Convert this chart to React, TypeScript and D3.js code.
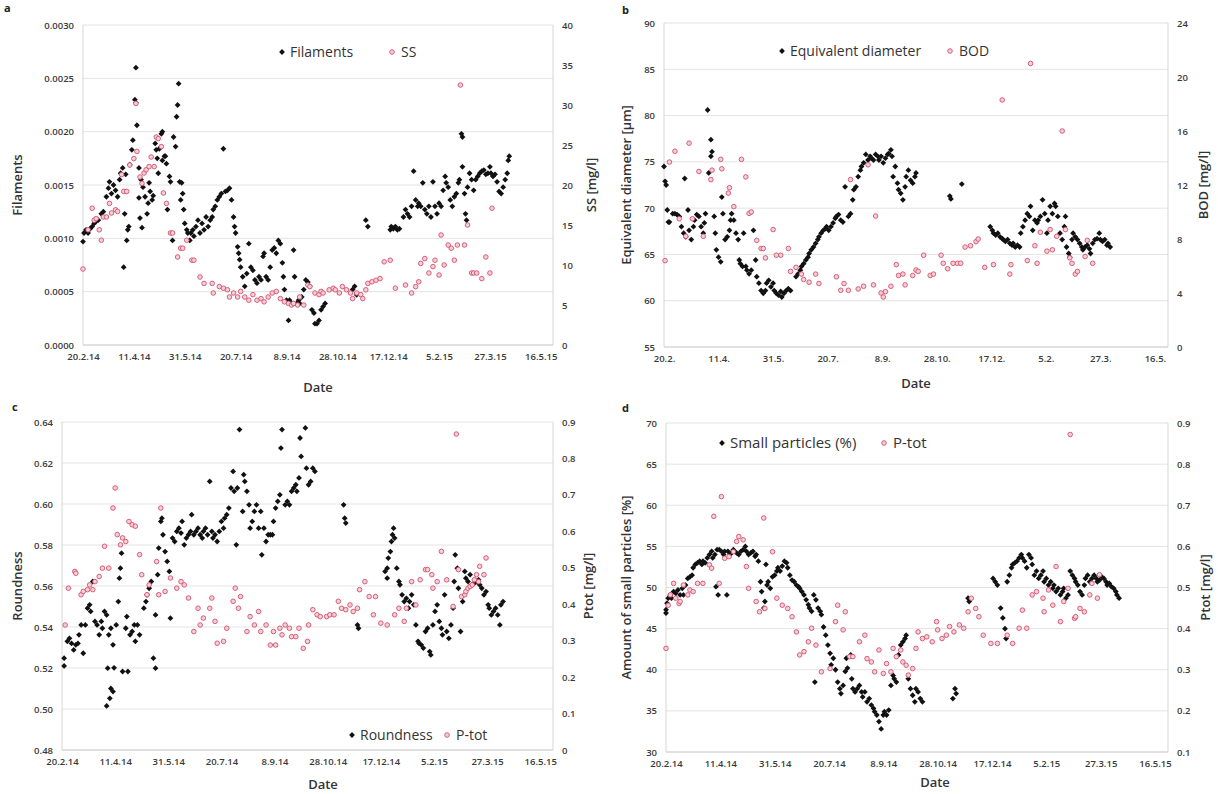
import React, { useEffect, useRef } from 'react';
import * as d3 from 'd3';

type Pt = [number, number];

// day offsets from 20.2.2014
const START = new Date(2014, 1, 20);
const tickDays = [0, 50, 100, 150, 200, 250, 300, 350, 400, 450];
const DAY_MAX = 462;

// a: filaments / SS
const filaments: Pt[] = [
  [0,0.00097],[1,0.00105],[3,0.00108],[5,0.00105],[7,0.00109],[9,0.00111],[11,0.00114],[13,0.00116],[15,0.00117],[18,0.00123],[20,0.00125],[23,0.00139],[25,0.00147],[26,0.00153],[28,0.00142],[30,0.0015],[32,0.00145],[34,0.00139],[36,0.00155],[37,0.00161],[39,0.00166],[40,0.00073],[41,0.00123],[42,0.0016],[43,0.00098],[44,0.00108],[45,0.00111],[46,0.00169],[48,0.00183],[49,0.00192],[51,0.0023],[52,0.0026],[52,0.00227],[53,0.00206],[55,0.00138],[55,0.00166],[56,0.00119],[57,0.00155],[58,0.0011],[59,0.00148],[61,0.00139],[63,0.00123],[64,0.00133],[65,0.00152],[66,0.00144],[68,0.00136],[69,0.0014],[71,0.00189],[72,0.00183],[73,0.00175],[74,0.00161],[75,0.00184],[77,0.00198],[78,0.002],[78,0.00173],[80,0.00177],[81,0.00177],[82,0.0017],[83,0.00127],[85,0.00158],[86,0.00153],[88,0.00098],[89,0.00195],[91,0.00186],[92,0.00214],[93,0.00225],[94,0.00245],[95,0.00153],[96,0.00136],[97,0.00152],[98,0.00142],[99,0.00127],[100,0.00114],[102,0.00108],[103,0.00105],[105,0.00098],[106,0.00105],[108,0.00108],[109,0.00102],[111,0.00111],[113,0.00117],[115,0.00105],[117,0.00114],[119,0.00108],[121,0.0012],[123,0.00111],[125,0.00117],[127,0.0012],[128,0.00127],[130,0.0013],[132,0.00136],[134,0.00139],[136,0.00142],[138,0.00184],[140,0.00144],[142,0.00145],[144,0.00147],[146,0.00136],[148,0.0012],[149,0.00111],[150,0.00105],[152,0.00092],[153,0.00086],[154,0.0008],[155,0.00073],[157,0.00064],[159,0.00055],[161,0.00067],[163,0.00095],[165,0.00073],[167,0.0007],[169,0.00061],[171,0.00058],[173,0.00064],[175,0.00061],[177,0.00083],[178,0.00086],[180,0.00064],[182,0.00061],[184,0.00073],[186,0.00089],[188,0.00091],[190,0.00086],[192,0.00098],[194,0.00095],[196,0.00077],[197,0.00064],[198,0.00052],[200,0.00042],[202,0.00023],[203,0.00042],[205,0.00039],[207,0.00089],[208,0.00064],[210,0.00039],[212,0.00042],[213,0.00039],[215,0.00045],[217,0.00052],[219,0.00061],[221,0.00059],[223,0.00055],[225,0.00033],[227,0.0003],[228,0.0002],[230,0.0002],[232,0.00023],[234,0.00033],[236,0.00036],[238,0.00039],
  [265,0.00052],[267,0.00055],[269,0.00047],[278,0.00117],[280,0.00111],
  [302,0.00108],[303,0.00111],[305,0.00109],[307,0.00111],[309,0.00108],[311,0.00109],[315,0.0012],[317,0.00127],[319,0.00123],[321,0.0012],[323,0.0013],[325,0.00163],[327,0.00136],[329,0.0013],[330,0.00133],[332,0.0013],[334,0.00152],[336,0.00127],[338,0.00123],[340,0.0013],[342,0.0012],[344,0.00153],[346,0.0013],[348,0.00123],[350,0.00133],[352,0.0013],[354,0.00145],[356,0.00158],[357,0.00152],[359,0.00148],[361,0.00136],[363,0.0013],[365,0.00139],[367,0.00142],[369,0.00152],[370,0.00155],[372,0.00198],[373,0.00195],[373,0.00167],[375,0.00142],[376,0.00123],[377,0.00117],[378,0.00148],[380,0.00161],[382,0.00155],[384,0.00145],[386,0.00155],[388,0.00158],[390,0.00161],[392,0.00163],[394,0.00164],[396,0.0016],[398,0.00161],[400,0.00167],[401,0.00161],[403,0.00158],[405,0.0016],[407,0.00153],[409,0.00144],[411,0.00142],[413,0.00148],[415,0.00155],[417,0.00161],[418,0.00173],[419,0.00177],
];
const ss: Pt[] = [
  [0,9.5],[5,14.4],[9,17.1],[11,15.6],[13,15.8],[16,14.4],[18,13.1],[20,16],[23,16],[26,17.7],[28,16.5],[32,16.9],[34,16.7],[38,21.3],[40,19.2],[43,19.2],[46,22.5],[50,23.3],[52,30.2],[53,24.2],[56,21],[58,20.2],[60,21.5],[62,21.9],[65,22.3],[67,23.5],[70,22.3],[72,26],[74,25.8],[77,24.8],[79,19],[82,17.7],[86,14],[88,14],[93,11],[96,12.1],[98,12.1],[102,13.1],[107,10.6],[109,10.6],[115,8.5],[119,7.7],[127,7.7],[128,6.5],[134,7.3],[138,7.1],[142,6.9],[144,6],[148,6.5],[152,6],[155,6.7],[159,6],[163,5.6],[167,6.3],[171,5.6],[175,5.8],[178,5.4],[182,6],[186,6.5],[190,6.7],[194,5.8],[198,5.4],[202,5.2],[205,5],[207,5.2],[211,5],[213,6],[217,5],[221,7.5],[223,7.3],[228,6.5],[232,6.3],[234,6.7],[236,6.5],[242,6.9],[246,7.1],[248,6.9],[252,6.5],[255,7.3],[259,6.9],[263,6.5],[265,5.8],[269,6.5],[273,6.3],[275,5.8],[278,6.9],[280,7.7],[284,7.9],[288,8.1],[292,8.3],[296,10.4],[302,10.6],[307,7.1],[317,7.5],[323,6.5],[327,7.3],[330,7.9],[332,10.2],[336,10.8],[340,9],[344,9.8],[346,10.6],[350,8.75],[352,13.75],[355,10],[359,12.5],[362,12.1],[365,10.6],[368,12.5],[371,32.5],[375,12.5],[378,15],[382,9],[384,9],[387,9],[392,8.3],[396,11],[400,9],[402,17.1],
];

// b: equivalent diameter / BOD
const eqDiameter: Pt[] = [
  [0,74.5],[1,72.9],[2,72.5],[3,69.8],[4,68.5],[5,68.5],[8,69.4],[10,69.4],[12,69.3],[14,69.1],[16,68],[18,67.3],[19,73.2],[20,66.9],[22,69.8],[23,67.6],[25,66.6],[27,68],[28,68.7],[30,69.3],[32,69.1],[34,68],[36,67.3],[37,68.4],[38,69.4],[40,80.6],[41,73.8],[43,77.4],[43,75.6],[44,76.1],[46,69.1],[47,67.3],[48,65.5],[50,64.7],[52,64.2],[53,71.2],[54,69.4],[56,66.6],[58,66.9],[60,67.6],[61,68.7],[62,69.4],[64,68.7],[66,67.3],[68,66.6],[69,64.4],[70,64],[72,63.7],[73,67.3],[75,63.7],[76,63.3],[78,62.9],[80,63.3],[82,67.6],[84,64.4],[85,62.6],[87,61.9],[89,61.1],[91,60.8],[93,61.1],[94,61.9],[96,62.2],[98,61.5],[100,61.9],[101,61.1],[103,60.8],[105,60.6],[107,61],[108,60.4],[110,60.8],[112,61.1],[114,61.3],[116,61.1],
  [121,62.6],[123,62.9],[125,63.3],[126,63.7],[128,64],[130,64.4],[132,64.7],[133,65.1],[135,65.5],[137,65.8],[139,66.2],[141,66.6],[142,66.9],[144,67.3],[146,67.6],[148,67.8],[149,68],[151,67.6],[153,68],[155,68.4],[157,68.9],[158,69.1],[160,69.3],[162,68.7],[164,68.5],[166,72.3],[169,69.1],[171,69.4],[173,70.9],[174,72],[176,72.3],[178,73.4],[180,74.1],[181,74.5],[183,74.9],[185,75.8],[187,75.2],[189,75.6],[190,75.4],[192,75.2],[194,75.8],[196,75.6],[197,75.2],[199,75.6],[201,74.9],[203,75.4],[205,75.8],[206,75.9],[208,76.3],[209,75.6],[210,73.4],[212,74.5],[214,72.7],[215,72],[217,71.6],[219,70.9],[221,72.3],[222,73.4],[224,74.1],[226,73],[228,72.7],[230,73.4],[231,73.8],
  [262,71.3],[263,71.0],[273,72.6],
  [299,68],[301,67.6],[302,67.3],[304,67.1],[306,67.3],[308,66.9],[310,66.7],[311,66.6],[313,66.4],[315,66.6],[317,66.2],[319,66],[320,66.2],[322,65.8],[324,66],[326,65.8],[327,67.3],[329,68],[331,68.7],[333,69.4],[335,69.1],[336,70.2],[338,67.6],[340,68.7],[342,68.4],[343,68.7],[345,69.1],[347,70.9],[349,69.4],[351,67.3],[352,68.7],[354,70.2],[356,69.4],[358,70.5],[359,70.2],[361,69.1],[363,67.3],[365,66.6],[367,68],[368,69.1],[369,65.8],[371,65.1],[372,64.7],[374,66.6],[375,67.3],[377,66.9],[379,66.6],[381,66.2],[383,65.8],[384,65.5],[386,65.8],[388,66],[390,65.6],[391,65.1],[393,66.2],[395,66.6],[397,66.7],[399,67.3],[400,66.6],[402,66.4],[404,66.6],[406,66],[407,66.2],[409,65.8],
];
const bod: Pt[] = [
  [1,6.4],[5,13.7],[10,14.5],[14,9.5],[20,8.2],[23,15.1],[26,9.5],[32,13],[36,8.2],[43,12.4],[44,13.1],[52,13.9],[53,13.2],[59,11.4],[60,11.8],[64,10.4],[71,13.9],[75,12.6],[78,9.9],[80,10],[85,7.9],[89,7.3],[91,7.3],[93,6.6],[100,8.7],[103,6.8],[107,6.8],[114,7.3],[116,5.6],[121,5.9],[126,5.4],[128,5],[133,4.8],[139,5.4],[142,4.7],[158,5.2],[162,4.2],[165,4.7],[169,4.2],[171,12.4],[178,4.3],[183,4.5],[187,13.5],[192,4.6],[194,9.7],[199,4],[201,3.7],[203,4.1],[208,4.5],[213,6.1],[215,5.3],[219,5.4],[221,4.6],[228,5.3],[231,5.7],[233,5.6],[238,6.8],[244,5.3],[247,5.4],[254,6.8],[256,6.2],[260,5.8],[265,6.2],[269,6.2],[272,6.2],[276,7.4],[281,7.5],[286,7.8],[288,8],[294,5.9],[302,6.1],[310,18.3],[317,5.4],[318,6.1],[333,6.4],[336,21],[340,7.5],[342,6.2],[345,8.5],[351,7.1],[354,8.7],[356,7.2],[360,8.2],[365,16],[368,8.7],[372,6.6],[374,6.2],[377,5.4],[379,5.6],[386,6.7],[388,7.9],[393,6.2],
];

// c: roundness / P-tot
const roundness: Pt[] = [
  [2,0.5248],[2,0.521],[5,0.533],[7,0.5345],[9,0.532],[11,0.5288],[13,0.5313],[15,0.532],[16,0.5362],[18,0.541],[20,0.5272],[22,0.541],[24,0.5492],[26,0.5508],[27,0.5476],[29,0.5622],[31,0.5427],[33,0.541],[35,0.5362],[37,0.5427],[38,0.5394],[40,0.5476],[42,0.5459],[42,0.5015],[43,0.5199],[44,0.5362],[45,0.5052],[46,0.5394],[46,0.51],[48,0.5313],[48,0.5085],[49,0.5201],[51,0.541],[53,0.5524],[54,0.5638],[55,0.5687],[56,0.576],[57,0.5183],[60,0.5394],[61,0.5451],[62,0.5183],[64,0.5362],[66,0.5378],[68,0.541],[69,0.533],[71,0.541],[73,0.5362],[77,0.5492],[79,0.5524],[80,0.5557],[82,0.5589],[84,0.5622],[86,0.5248],[88,0.5199],[88,0.5459],[90,0.5655],[91,0.5785],[93,0.5915],[94,0.5931],[95,0.585],[97,0.5768],[99,0.572],[101,0.5671],[102,0.5443],[104,0.5834],[106,0.5817],[108,0.5866],[110,0.5882],[112,0.5858],[113,0.5915],[115,0.5801],[117,0.5834],[119,0.585],[121,0.5866],[122,0.5948],[124,0.585],[126,0.5866],[128,0.5882],[130,0.585],[132,0.5834],[133,0.5866],[135,0.5882],[137,0.585],[139,0.611],[141,0.5866],[142,0.5834],[144,0.585],[146,0.5817],[148,0.5866],[150,0.5915],[152,0.5882],[153,0.5931],[155,0.5948],[157,0.598],[159,0.6078],[161,0.6159],[162,0.6062],[164,0.5801],[165,0.6078],[167,0.6363],[170,0.5964],[171,0.6143],[172,0.611],[174,0.6062],[176,0.5996],[177,0.5882],[179,0.5915],[181,0.5964],[183,0.5996],[185,0.5882],[187,0.5964],[188,0.5752],[190,0.5882],[192,0.5817],[194,0.585],[196,0.585],[198,0.585],[199,0.5915],[201,0.598],[203,0.6013],[205,0.6045],[206,0.6273],[207,0.6363],[210,0.5996],[212,0.6013],[214,0.5996],[216,0.6062],[218,0.6078],[220,0.6094],[221,0.6062],[223,0.6127],[224,0.6322],[225,0.6232],[229,0.6371],[230,0.6175],[232,0.6094],[234,0.611],[236,0.6175],[238,0.6159],
  [265,0.5996],[266,0.5931],[267,0.5907],[278,0.541],[279,0.5394],
  [304,0.5671],[306,0.5638],[306,0.5687],[307,0.5736],[309,0.5768],[310,0.5817],[311,0.585],[312,0.5882],[313,0.5834],[315,0.5687],[317,0.5622],[318,0.5606],[320,0.5557],[322,0.5524],[324,0.554],[326,0.5492],[327,0.5524],[329,0.5557],[331,0.5508],[333,0.541],[335,0.533],[336,0.532],[338,0.5313],[340,0.5297],[342,0.5378],[344,0.5394],[346,0.528],[347,0.5264],[349,0.541],[351,0.5476],[353,0.5508],[355,0.5427],[357,0.5394],[358,0.5362],[360,0.5557],[362,0.5378],[364,0.5345],[366,0.541],[368,0.5492],[369,0.5622],[370,0.5752],[372,0.5687],[373,0.5589],[375,0.5378],[377,0.5524],[379,0.5671],[380,0.5638],[382,0.5622],[384,0.5655],[386,0.5606],[388,0.5614],[390,0.5622],[392,0.563],[393,0.5606],[395,0.5589],[397,0.5557],[399,0.5573],[401,0.5508],[402,0.5492],[404,0.5459],[406,0.5476],[408,0.5492],[410,0.5459],[412,0.541],[413,0.5508],[415,0.5524],
];
const ptotC: Pt[] = [
  [3,0.343],[6,0.444],[12,0.49],[13,0.485],[18,0.426],[20,0.435],[24,0.44],[26,0.453],[29,0.44],[31,0.462],[35,0.476],[38,0.499],[40,0.559],[44,0.499],[48,0.664],[50,0.719],[52,0.591],[55,0.563],[57,0.582],[60,0.572],[63,0.627],[66,0.618],[69,0.614],[73,0.536],[75,0.481],[80,0.426],[82,0.453],[89,0.517],[91,0.426],[93,0.664],[97,0.435],[102,0.472],[108,0.444],[112,0.462],[115,0.453],[119,0.417],[124,0.325],[128,0.389],[130,0.343],[133,0.362],[139,0.389],[141,0.417],[144,0.353],[146,0.293],[152,0.298],[155,0.334],[161,0.408],[163,0.444],[166,0.389],[168,0.421],[174,0.325],[177,0.366],[181,0.343],[185,0.38],[187,0.325],[192,0.343],[196,0.288],[199,0.325],[201,0.288],[205,0.334],[207,0.316],[210,0.343],[214,0.334],[216,0.311],[220,0.311],[223,0.334],[227,0.279],[231,0.298],[232,0.343],[236,0.385],[240,0.371],[243,0.366],[249,0.366],[252,0.371],[256,0.371],[260,0.408],[263,0.389],[267,0.385],[271,0.398],[274,0.38],[278,0.389],[280,0.44],[285,0.462],[289,0.421],[293,0.371],[295,0.421],[300,0.348],[306,0.343],[313,0.371],[317,0.389],[322,0.353],[324,0.389],[329,0.462],[333,0.398],[337,0.467],[342,0.495],[344,0.495],[348,0.481],[349,0.444],[353,0.462],[357,0.545],[362,0.467],[368,0.394],[371,0.867],[373,0.495],[376,0.421],[379,0.426],[380,0.435],[382,0.444],[384,0.449],[386,0.453],[388,0.467],[390,0.481],[392,0.462],[393,0.504],[397,0.481],[399,0.527],
];

// d: small particles / P-tot
const smallParticles: Pt[] = [
  [0,46.9],[0,47.3],[1,48.1],[2,48.7],[4,49.1],[5,48.7],[7,49.5],[9,49.3],[11,49.7],[13,49.1],[15,49.9],[16,49.1],[18,50.3],[20,51.1],[22,51.3],[24,51.5],[25,52.4],[27,52.8],[29,53],[31,53.2],[33,52.8],[34,53.2],[36,53],[38,53.6],[40,54],[42,54.4],[43,53.6],[45,54],[46,50.1],[47,54.6],[48,49.1],[49,54.6],[51,54.4],[53,54],[54,54.4],[56,49.1],[57,54.4],[59,54],[60,54.2],[62,54.6],[63,54.4],[65,54.2],[67,54],[69,54.4],[71,54.6],[73,55],[74,54.4],[76,54],[78,54.2],[80,54.4],[82,53.8],[83,54],[85,53.2],[87,50.7],[88,49.5],[90,47.5],[91,48.3],[92,52.8],[93,50.3],[94,50.7],[96,49.9],[98,51.3],[100,51.5],[102,52],[103,52.4],[105,52],[107,52.6],[109,53.2],[111,53],[112,52.4],[114,51.5],[116,50.9],[118,50.7],[120,50.3],[122,50.1],[123,49.9],[125,49.5],[127,49.1],[129,48.5],[131,47.9],[132,47.5],[134,47.1],[136,49.1],[137,38.5],[138,48.5],[140,47.5],[142,47.1],[143,46.7],[145,45.2],[147,44.2],[149,43],[151,42],[152,40.6],[154,41.4],[156,40],[158,38.5],[160,37.7],[161,37.1],[163,38.1],[165,39.8],[166,41.4],[167,40.2],[170,41.8],[171,38.9],[172,37.7],[174,37.3],[176,37.7],[178,38.1],[180,37.3],[181,36.7],[183,37.3],[185,36.1],[187,36.5],[189,35.7],[191,35.3],[192,34.9],[194,34.5],[196,33.7],[198,32.8],[200,34.5],[201,34.9],[203,34.5],[205,35.1],[207,38.1],[209,39.3],[210,38.9],[212,38.5],[214,41.8],[216,43],[218,43.4],[220,43.8],[221,44.2],[223,38.9],[225,37.7],[227,36.9],[229,36.1],[230,37.7],[232,37.3],[234,36.5],[236,36.1],
  [264,36.5],[266,37.7],[267,37.1],[278,48.7],[279,48.3],
  [301,51.1],[303,50.7],[305,50.3],[308,47.5],[310,46.3],[312,45],[313,43.8],[314,50.7],[316,51.5],[318,52.4],[319,52.8],[321,53],[323,53.2],[325,53.6],[327,54],[328,53.6],[330,53.2],[332,52.4],[334,54],[336,53.6],[337,52.8],[339,51.5],[341,52],[343,51.1],[345,51.5],[347,52],[348,50.7],[350,51.1],[352,50.3],[354,50.7],[356,49.9],[357,50.3],[359,49.5],[361,49.9],[363,49.1],[365,49.5],[366,49.9],[368,48.7],[370,49.1],[372,52],[374,51.5],[376,51.1],[377,50.7],[379,50.3],[381,49.5],[383,49.1],[385,50.3],[386,51.1],[388,51.5],[390,50.7],[392,51.1],[394,51.5],[396,51.1],[397,50.7],[399,50.9],[401,51.3],[403,51.1],[405,50.7],[406,50.3],[408,50.5],[410,50.1],[412,49.9],[414,49.5],[415,49.1],[417,48.7],
];
const ptotD: Pt[] = [
  [0,0.352],[2,0.457],[4,0.482],[7,0.51],[9,0.474],[12,0.461],[13,0.466],[16,0.506],[20,0.482],[22,0.494],[25,0.49],[29,0.51],[34,0.51],[40,0.555],[42,0.547],[44,0.673],[49,0.51],[51,0.721],[54,0.571],[58,0.575],[62,0.587],[65,0.612],[67,0.624],[71,0.616],[74,0.551],[76,0.498],[83,0.466],[86,0.441],[90,0.669],[91,0.449],[98,0.587],[102,0.474],[107,0.457],[112,0.449],[116,0.429],[120,0.392],[123,0.336],[127,0.344],[131,0.368],[134,0.401],[138,0.36],[143,0.295],[151,0.303],[156,0.417],[158,0.457],[163,0.397],[165,0.441],[169,0.332],[172,0.332],[178,0.368],[183,0.384],[185,0.327],[189,0.319],[192,0.295],[196,0.348],[200,0.291],[203,0.315],[207,0.295],[209,0.352],[212,0.332],[216,0.348],[218,0.319],[221,0.311],[223,0.287],[227,0.303],[230,0.352],[232,0.392],[236,0.376],[240,0.38],[245,0.368],[249,0.417],[250,0.397],[254,0.376],[258,0.384],[261,0.405],[265,0.392],[270,0.409],[274,0.401],[278,0.441],[281,0.474],[285,0.449],[288,0.429],[292,0.384],[299,0.364],[305,0.364],[314,0.384],[319,0.364],[325,0.401],[328,0.445],[332,0.401],[337,0.482],[341,0.49],[347,0.474],[348,0.441],[352,0.494],[356,0.457],[359,0.551],[363,0.417],[366,0.466],[370,0.498],[372,0.872],[376,0.425],[377,0.429],[381,0.449],[385,0.441],[390,0.482],[392,0.51],[397,0.474],[399,0.531],
];

const leftTicksA = [0, 0.0005, 0.001, 0.0015, 0.002, 0.0025, 0.003];
const rightTicksA = [0, 5, 10, 15, 20, 25, 30, 35, 40];
const leftTicksB = [55, 60, 65, 70, 75, 80, 85, 90];
const rightTicksB = [0, 4, 8, 12, 16, 20, 24];
const leftTicksC = [0.48, 0.5, 0.52, 0.54, 0.56, 0.58, 0.6, 0.62, 0.64];
const rightTicksC = [0, 0.1, 0.2, 0.3, 0.4, 0.5, 0.6, 0.7, 0.8, 0.9];
const leftTicksD = [30, 35, 40, 45, 50, 55, 60, 65, 70];
const rightTicksD = [0.1, 0.2, 0.3, 0.4, 0.5, 0.6, 0.7, 0.8, 0.9];

const FONT = "'Open Sans', 'Liberation Sans', sans-serif";
const DIAMOND = 'M0,-2.9L2.9,0L0,2.9L-2.9,0Z';

const panels = [
  {
    letter: 'a', lx: 4, ly: 12,
    box: { left: 83, right: 553, top: 25, bottom: 345 },
    yTicks: leftTicksA, yFmt: d3.format('.4f'),
    y2Ticks: rightTicksA, y2Fmt: d3.format('d'),
    yTitle: 'Filaments', yTitleX: 17, y2Title: 'SS [mg/l]', y2TitleX: 591,
    dateFmt: '%-d.%-m.%y', dateX: 318, dateY: 392,
    black: filaments, red: ss, blackName: 'Filaments', redName: 'SS',
    legX: 282, legY: 52, legGap: 110, legSize: 14,
  },
  {
    letter: 'b', lx: 622, ly: 14,
    box: { left: 664, right: 1168, top: 23, bottom: 347 },
    yTicks: leftTicksB, yFmt: d3.format('d'),
    y2Ticks: rightTicksB, y2Fmt: d3.format('d'),
    yTitle: 'Equivalent diameter [µm]', yTitleX: 626, y2Title: 'BOD [mg/l]', y2TitleX: 1203,
    dateFmt: '%-d.%-m.', dateX: 916, dateY: 388,
    black: eqDiameter, red: bod, blackName: 'Equivalent diameter', redName: 'BOD',
    legX: 782, legY: 51, legGap: 168, legSize: 14,
  },
  {
    letter: 'c', lx: 12, ly: 411,
    box: { left: 62, right: 553, top: 422, bottom: 750 },
    yTicks: leftTicksC, yFmt: d3.format('.2f'),
    y2Ticks: rightTicksC, y2Fmt: (v: number) => (v === 0 ? '0' : d3.format('.1f')(v)),
    yTitle: 'Roundness', yTitleX: 17, y2Title: 'Ptot [mg/l]', y2TitleX: 588,
    dateFmt: '%-d.%-m.%y', dateX: 323, dateY: 789,
    black: roundness, red: ptotC, blackName: 'Roundness', redName: 'P-tot',
    legX: 352, legY: 735, legGap: 95, legSize: 14,
  },
  {
    letter: 'd', lx: 622, ly: 412,
    box: { left: 666, right: 1168, top: 423, bottom: 752 },
    yTicks: leftTicksD, yFmt: d3.format('d'),
    y2Ticks: rightTicksD, y2Fmt: d3.format('.1f'),
    yTitle: 'Amount of small particles [%]', yTitleX: 626, y2Title: 'Ptot [mg/l]', y2TitleX: 1205,
    dateFmt: '%-d.%-m.%y', dateX: 935, dateY: 787,
    black: smallParticles, red: ptotD, blackName: 'Small particles (%)', redName: 'P-tot',
    legX: 722, legY: 443, legGap: 162, legSize: 15,
  },
];

const App = () => {
  const svgRef = useRef<SVGSVGElement>(null);

  useEffect(() => {
    document.body.style.margin = '0';
    const svg = d3.select(svgRef.current);
    svg.selectAll('*').remove();
    svg.append('rect').attr('width', 1218).attr('height', 794).attr('fill', '#fff');

    panels.forEach(p => {
      const { left, right, top, bottom } = p.box;
      const g = svg.append('g');

      const x = d3.scaleTime()
        .domain([START, d3.timeDay.offset(START, DAY_MAX)])
        .range([left, right]);
      const y = d3.scaleLinear()
        .domain(d3.extent(p.yTicks) as [number, number])
        .range([bottom, top]);
      const y2 = d3.scaleLinear()
        .domain(d3.extent(p.y2Ticks) as [number, number])
        .range([bottom, top]);
      const day = (d: number) => x(d3.timeDay.offset(START, d));

      // gridlines
      g.append('g').selectAll('line')
        .data(p.yTicks)
        .enter().append('line')
        .attr('x1', left).attr('x2', right)
        .attr('y1', d => y(d)).attr('y2', d => y(d))
        .attr('stroke', '#e3e3e3').attr('stroke-width', 1);

      g.append('line').attr('x1', left).attr('x2', left).attr('y1', top).attr('y2', bottom)
        .attr('stroke', '#d6d6d6');
      g.append('line').attr('x1', right).attr('x2', right).attr('y1', top).attr('y2', bottom)
        .attr('stroke', '#d6d6d6');
      g.append('line').attr('x1', left).attr('x2', right).attr('y1', bottom).attr('y2', bottom)
        .attr('stroke', '#d0d0d0');

      // axes
      const axL = g.append('g')
        .attr('transform', `translate(${left},0)`)
        .call(d3.axisLeft(y).tickValues(p.yTicks).tickFormat(p.yFmt as any).tickSize(0).tickPadding(9));
      const axR = g.append('g')
        .attr('transform', `translate(${right},0)`)
        .call(d3.axisRight(y2).tickValues(p.y2Ticks).tickFormat(p.y2Fmt as any).tickSize(0).tickPadding(9));
      const axB = g.append('g')
        .attr('transform', `translate(0,${bottom})`)
        .call(d3.axisBottom(x)
          .tickValues(tickDays.map(d => d3.timeDay.offset(START, d)))
          .tickFormat(d3.timeFormat(p.dateFmt) as any)
          .tickSize(0).tickPadding(8));
      [axL, axR, axB].forEach(ax => {
        ax.select('.domain').remove();
        ax.selectAll('text')
          .attr('font-family', FONT)
          .attr('font-size', 9.5)
          .attr('font-weight', 600)
          .attr('fill', '#3a3a3a');
      });

      // series
      g.append('g').selectAll('path')
        .data(p.black)
        .enter().append('path')
        .attr('d', DIAMOND)
        .attr('transform', d => `translate(${day(d[0])},${y(d[1])})`)
        .attr('fill', '#111');
      g.append('g').selectAll('circle')
        .data(p.red)
        .enter().append('circle')
        .attr('cx', d => day(d[0]))
        .attr('cy', d => y2(d[1]))
        .attr('r', 2.3)
        .attr('fill', '#f5cfd7')
        .attr('stroke', '#d4506c')
        .attr('stroke-width', 0.9);

      // titles
      const midY = (top + bottom) / 2;
      g.append('text')
        .attr('transform', `translate(${p.yTitleX},${midY}) rotate(-90)`)
        .attr('text-anchor', 'middle').attr('dy', '0.35em')
        .attr('font-family', FONT).attr('font-size', 13).attr('font-weight', 600)
        .attr('fill', '#333')
        .text(p.yTitle);
      g.append('text')
        .attr('transform', `translate(${p.y2TitleX},${midY}) rotate(-90)`)
        .attr('text-anchor', 'middle').attr('dy', '0.35em')
        .attr('font-family', FONT).attr('font-size', 13).attr('font-weight', 600)
        .attr('fill', '#333')
        .text(p.y2Title);
      g.append('text')
        .attr('x', p.dateX).attr('y', p.dateY)
        .attr('text-anchor', 'middle')
        .attr('font-family', FONT).attr('font-size', 13).attr('font-weight', 600)
        .attr('fill', '#333')
        .text('Date');
      g.append('text')
        .attr('x', p.lx).attr('y', p.ly)
        .attr('font-family', FONT).attr('font-size', 11).attr('font-weight', 700)
        .attr('fill', '#222')
        .text(p.letter);

      // legend
      const leg = g.append('g').attr('transform', `translate(${p.legX},${p.legY})`);
      leg.append('path').attr('d', DIAMOND).attr('fill', '#111');
      leg.append('text').attr('x', 8).attr('dy', '0.35em')
        .attr('font-family', FONT).attr('font-size', p.legSize).attr('fill', '#333')
        .text(p.blackName);
      leg.append('circle').attr('cx', p.legGap).attr('r', 2.3)
        .attr('fill', '#f5cfd7').attr('stroke', '#d4506c').attr('stroke-width', 0.9);
      leg.append('text').attr('x', p.legGap + 9).attr('dy', '0.35em')
        .attr('font-family', FONT).attr('font-size', p.legSize).attr('fill', '#333')
        .text(p.redName);
    });
  }, []);

  return <svg ref={svgRef} width={1218} height={794} style={{ display: 'block' }}></svg>;
};

export default App;
